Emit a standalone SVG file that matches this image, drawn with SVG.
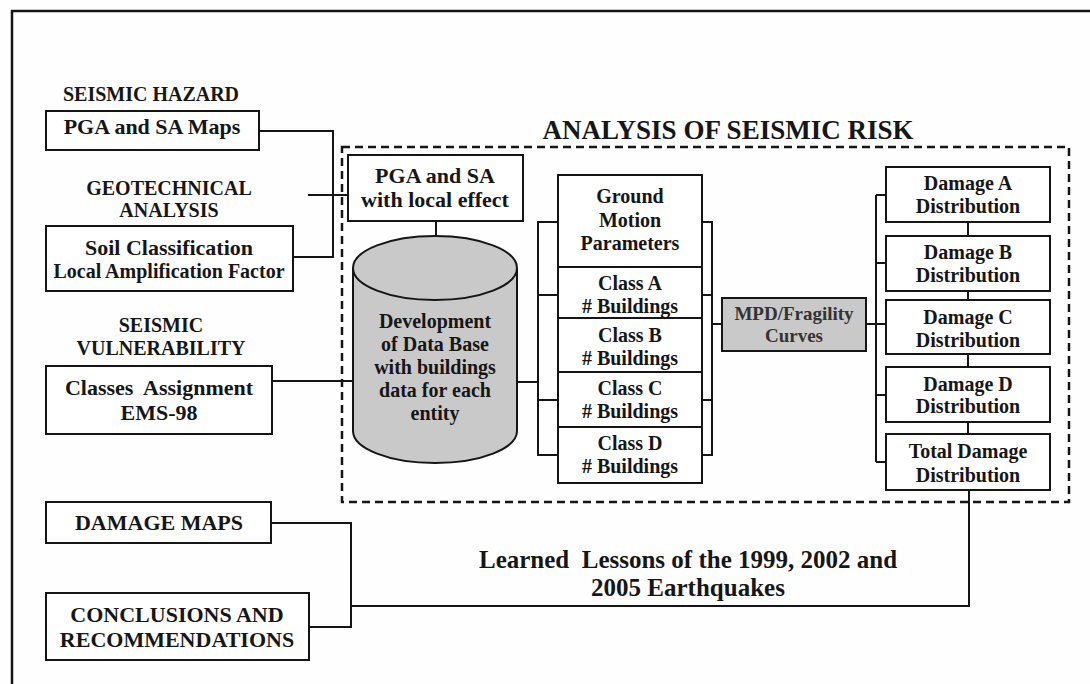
<svg xmlns="http://www.w3.org/2000/svg" width="1090" height="684" viewBox="0 0 1090 684">
<style>
.bx{fill:#fff;stroke:#151515;stroke-width:2}
.gr{fill:#c9c9c9;stroke:#151515;stroke-width:2}
.ln{fill:none;stroke:#151515;stroke-width:2}
.ds{fill:none;stroke:#151515;stroke-width:2.5;stroke-dasharray:8 5}
.t{font-family:"Liberation Serif","Times New Roman",serif;font-weight:bold;fill:#161616;text-anchor:middle}
.s20{font-size:20px}
.s22{font-size:22px}
</style>
<rect width="1090" height="684" fill="#fefefe"/>
<path class="ln" d="M12,684 V11 H1090" style="stroke-width:2.5"/>
<text class="t" x="728" y="139" style="font-size:27px">ANALYSIS OF SEISMIC RISK</text>
<rect class="ds" x="342" y="147" width="727" height="355"/>

<g id="connectors">
<path class="ln" d="M259,131 H333 V257 H293"/>
<path class="ln" d="M308,195 H348"/>
<path class="ln" d="M436,221 V236"/>
<path class="ln" d="M272,381 H353"/>
<path class="ln" d="M517,382 H538"/>
<path class="ln" d="M558,222 H538 V455 H558 M538,295 H558 M538,400 H558"/>
<path class="ln" d="M702,222 H712 V455 H702 M702,295 H712 M702,400 H712 M712,324 H722"/>
<path class="ln" d="M866,324 H886 M876,195 V462 M876,195 H886 M876,263 H886 M876,395 H886 M876,462 H886"/>
<path class="ln" d="M968,222 V236 M968,291 V300 M968,354 V367 M968,422 V434"/>
<path class="ln" d="M271,523 H351 V627 H309"/>
<path class="ln" d="M351,606 H969 V490"/>
</g>

<g id="seismic-hazard">
<text class="t s20" x="151" y="101">SEISMIC HAZARD</text>
<rect class="bx" x="46" y="111" width="213" height="39"/>
<text class="t s22" x="152" y="134">PGA and SA Maps</text>
</g>

<g id="geotechnical">
<text class="t s20" x="169" y="195">GEOTECHNICAL</text>
<text class="t s20" x="169" y="217">ANALYSIS</text>
<rect class="bx" x="46" y="226" width="247" height="65"/>
<text class="t s22" x="169" y="255">Soil Classification</text>
<text class="t s20" x="169" y="278">Local Amplification Factor</text>
</g>

<g id="vulnerability">
<text class="t s20" x="161" y="332">SEISMIC</text>
<text class="t s20" x="161" y="355">VULNERABILITY</text>
<rect class="bx" x="46" y="366" width="226" height="68"/>
<text class="t s22" x="159" y="395" xml:space="preserve">Classes  Assignment</text>
<text class="t s22" x="159" y="420">EMS-98</text>
</g>

<g id="pga-local">
<rect class="bx" x="348" y="155" width="175" height="66"/>
<text class="t s22" x="435" y="183">PGA and SA</text>
<text class="t s22" x="435" y="207">with local effect</text>
</g>

<g id="database">
<path class="gr" d="M353,268 V431 A82,32 0 0 0 517,431 V268"/>
<ellipse class="gr" cx="435" cy="268" rx="82" ry="32"/>
<text class="t s20" x="435" y="328">Development</text>
<text class="t s20" x="435" y="351">of Data Base</text>
<text class="t s20" x="435" y="374">with buildings</text>
<text class="t s20" x="435" y="397">data for each</text>
<text class="t s20" x="435" y="420">entity</text>
</g>

<g id="ground-motion">
<rect class="bx" x="558" y="175" width="144" height="92"/>
<text class="t s20" x="630" y="203">Ground</text>
<text class="t s20" x="630" y="227">Motion</text>
<text class="t s20" x="630" y="250">Parameters</text>
</g>
<g id="class-a">
<rect class="bx" x="558" y="267" width="144" height="51"/>
<text class="t s20" x="630" y="290">Class A</text>
<text class="t s20" x="630" y="313"># Buildings</text>
</g>
<g id="class-b">
<rect class="bx" x="558" y="318" width="144" height="54"/>
<text class="t s20" x="630" y="342">Class B</text>
<text class="t s20" x="630" y="365"># Buildings</text>
</g>
<g id="class-c">
<rect class="bx" x="558" y="372" width="144" height="55"/>
<text class="t s20" x="630" y="395">Class C</text>
<text class="t s20" x="630" y="418"># Buildings</text>
</g>
<g id="class-d">
<rect class="bx" x="558" y="427" width="144" height="56"/>
<text class="t s20" x="630" y="450">Class D</text>
<text class="t s20" x="630" y="473"># Buildings</text>
</g>

<g id="mpd">
<rect class="gr" x="722" y="298" width="144" height="53"/>
<text class="t" x="794" y="320" style="font-size:19px;fill:#333">MPD/Fragility</text>
<text class="t" x="794" y="342" style="font-size:19px;fill:#333">Curves</text>
</g>

<g id="damage-a">
<rect class="bx" x="886" y="167" width="164" height="55"/>
<text class="t s20" x="968" y="190">Damage A</text>
<text class="t s20" x="968" y="213">Distribution</text>
</g>
<g id="damage-b">
<rect class="bx" x="886" y="236" width="164" height="55"/>
<text class="t s20" x="968" y="259">Damage B</text>
<text class="t s20" x="968" y="282">Distribution</text>
</g>
<g id="damage-c">
<rect class="bx" x="886" y="300" width="164" height="54"/>
<text class="t s20" x="968" y="324">Damage C</text>
<text class="t s20" x="968" y="347">Distribution</text>
</g>
<g id="damage-d">
<rect class="bx" x="886" y="367" width="164" height="55"/>
<text class="t s20" x="968" y="391">Damage D</text>
<text class="t s20" x="968" y="413">Distribution</text>
</g>
<g id="total-damage">
<rect class="bx" x="886" y="434" width="164" height="56"/>
<text class="t s20" x="968" y="458">Total Damage</text>
<text class="t s20" x="968" y="482">Distribution</text>
</g>

<g id="damage-maps">
<rect class="bx" x="46" y="502" width="225" height="41"/>
<text class="t s22" x="159" y="530">DAMAGE MAPS</text>
</g>
<g id="conclusions">
<rect class="bx" x="46" y="593" width="263" height="67"/>
<text class="t s22" x="177" y="622">CONCLUSIONS AND</text>
<text class="t s22" x="177" y="647">RECOMMENDATIONS</text>
</g>
<g id="lessons">
<text class="t" x="688" y="568" style="font-size:25px" xml:space="preserve">Learned  Lessons of the 1999, 2002 and</text>
<text class="t" x="688" y="596" style="font-size:25px">2005 Earthquakes</text>
</g>
</svg>
